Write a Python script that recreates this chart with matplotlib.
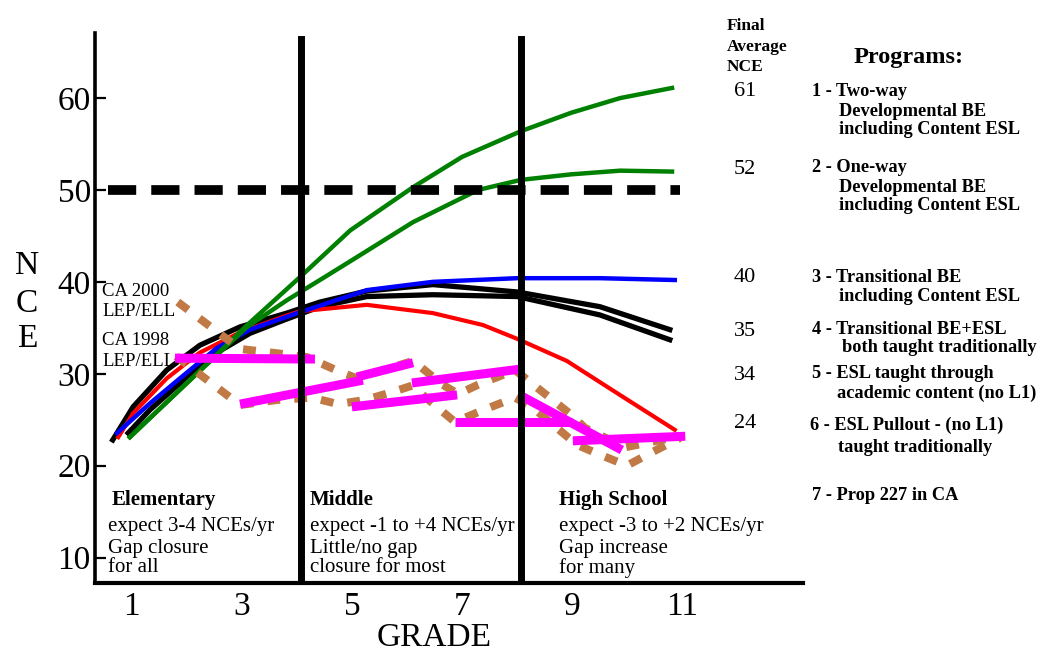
import matplotlib
matplotlib.use("Agg")
import matplotlib.pyplot as plt

plt.rcParams['font.family'] = ['Liberation Serif', 'DejaVu Serif']

W, H = 1045, 653

# ---------------- data ----------------
grade_ticks = [1, 3, 5, 7, 9, 11]
nce_ticks = [10, 20, 30, 40, 50, 60]
national_norm = 50
norm_span = [0.57, 10.95]
school_boundaries = [4.08, 8.07]

# Program 1 (two-way, green upper)
p1_grade = [0.97, 2.06, 3.10, 4.00, 4.97, 6.11, 7.00, 8.07, 8.98, 9.87, 10.81]
p1_nce = [23.1, 29.3, 35.3, 40.2, 45.6, 50.3, 53.6, 56.4, 58.4, 60.0, 61.1]

# Program 2 (one-way, green lower)
p2_grade = [0.97, 2.06, 3.10, 3.82, 4.42, 5.04, 6.11, 7.29, 8.07, 8.98, 9.87, 10.81]
p2_nce = [23.1, 29.3, 35.1, 38.0, 40.2, 42.5, 46.5, 50.0, 51.1, 51.7, 52.1, 52.0]

# Program 3 (blue)
p3_grade = [0.74, 1.34, 1.94, 2.55, 3.15, 4.06, 5.27, 6.47, 8.00, 9.50, 10.86]
p3_nce = [23.55, 26.8, 29.8, 32.8, 34.8, 36.7, 39.1, 40.0, 40.4, 40.4, 40.2]

# Black curves
p4a_grade = [0.66, 1.03, 1.64, 2.24, 2.97, 3.82, 4.42, 5.27, 6.47, 8.00, 9.50, 10.77]
p4a_nce = [22.8, 26.4, 30.4, 33.1, 35.1, 36.6, 37.8, 39.0, 39.7, 38.9, 37.3, 34.8]
p4b_grade = [0.94, 1.34, 1.94, 2.55, 3.15, 3.75, 4.42, 5.27, 6.47, 8.00, 9.50, 10.77]
p4b_nce = [23.55, 26.1, 29.3, 32.3, 34.4, 35.8, 37.3, 38.4, 38.6, 38.4, 36.4, 33.7]

# Red curve
p5_grade = [0.76, 1.03, 1.64, 2.24, 2.97, 3.75, 4.06, 5.27, 6.47, 7.38, 8.00, 8.90, 9.81, 10.86]
p5_nce = [23.1, 25.7, 29.5, 32.3, 34.5, 36.2, 36.8, 37.5, 36.6, 35.3, 33.8, 31.4, 27.9, 23.9]

# Magenta segments (ESL pullout cohorts)
pull_grade = [(1.79, 4.33), (2.97, 5.20), (5.09, 6.11), (5.00, 6.91),
              (6.09, 8.05), (6.87, 9.00), (8.10, 9.90), (9.01, 11.05)]
pull_nce = [(31.7, 31.6), (26.7, 29.3), (29.65, 31.2), (26.4, 27.7),
            (29.0, 30.5), (24.75, 24.75), (27.5, 21.7), (22.7, 23.2)]

# Prop 227 CA (brown dotted)
ca2000_grade = [1.84, 2.97, 3.75, 4.19, 4.75, 5.09, 6.11, 6.65, 6.93, 7.29, 7.96, 8.99, 9.23, 9.96, 10.95]
ca2000_nce = [37.8, 32.7, 32.15, 31.8, 30.3, 29.5, 31.4, 28.8, 27.8, 28.8, 30.4, 25.5, 24.1, 22.0, 23.2]
ca1998_grade = [1.81, 2.97, 3.64, 4.28, 4.75, 5.24, 5.73, 6.09, 6.54, 6.87, 7.38, 7.96,
                8.29, 8.72, 9.09, 9.50, 9.99, 10.46, 10.95]
ca1998_nce = [31.9, 26.6, 27.15, 27.4, 26.7, 27.15, 28.0, 28.7, 26.4, 24.75, 26.05, 27.4,
              26.3, 24.1, 22.25, 21.2, 20.0, 21.5, 23.0]

final_nce_labels = ["61", "52", "40", "35", "34", "24"]
program_lines = [
    "1 - Two-way", "Developmental BE", "including Content ESL",
    "2 - One-way", "Developmental BE", "including Content ESL",
    "3 - Transitional BE", "including Content ESL",
    "4 - Transitional BE+ESL", "both taught traditionally",
    "5 - ESL taught through", "academic content (no L1)",
    "6 - ESL Pullout - (no L1)", "taught traditionally",
    "7 - Prop 227 in CA",
]
school_heads = ["Elementary", "Middle", "High School"]
school_notes = [
    ["expect 3-4 NCEs/yr", "Gap closure", "for all"],
    ["expect -1 to +4 NCEs/yr", "Little/no gap", "closure for most"],
    ["expect -3 to +2 NCEs/yr", "Gap increase", "for many"],
]

# ---------------- layout helpers ----------------
def fx(px):
    return px / W

def fy(py):
    return 1 - py / H

fig = plt.figure(figsize=(W / 100, H / 100), dpi=100)
ax = fig.add_axes([fx(95), fy(583), (803 - 95) / W, (583 - 33) / H])
ax.set_xlim(0.338, 13.187)
ax.set_ylim(7.23, 67.08)

for s in ['top', 'right']:
    ax.spines[s].set_visible(False)
ax.spines['left'].set_linewidth(2.6)
ax.spines['bottom'].set_linewidth(3.0)

ax.set_yticks(nce_ticks)
ax.set_yticklabels([str(t) for t in nce_ticks])
ax.set_xticks(grade_ticks)
ax.set_xticklabels([str(t) for t in grade_ticks])
ax.tick_params(axis='y', direction='in', length=8, width=1.6, pad=3, labelsize=24)
ax.tick_params(axis='x', length=0, pad=6, labelsize=24)

# curves
ax.plot(p4a_grade, p4a_nce, color='black', lw=3.8, solid_joinstyle='round', zorder=2)
ax.plot(p4b_grade, p4b_nce, color='black', lw=3.8, solid_joinstyle='round', zorder=2)
ax.plot(p5_grade, p5_nce, color='#FF0000', lw=3.0, solid_joinstyle='round', zorder=2.2)
ax.plot(p3_grade, p3_nce, color='#0000FF', lw=3.2, solid_joinstyle='round', zorder=2.3)
ax.plot(p1_grade, p1_nce, color='#008000', lw=3.2, solid_joinstyle='round', zorder=2.4)
ax.plot(p2_grade, p2_nce, color='#008000', lw=3.2, solid_joinstyle='round', zorder=2.4)

brown = '#C17A45'
for gx, ny in [(ca2000_grade, ca2000_nce), (ca1998_grade, ca1998_nce)]:
    ln, = ax.plot(gx, ny, color=brown, lw=5.8, solid_capstyle='butt',
                  dash_capstyle='butt', zorder=2.6)
    ln.set_dashes((1.6, 1.75))

for gx, ny in zip(pull_grade, pull_nce):
    ax.plot(gx, ny, color='#FF00FF', lw=6.5, solid_capstyle='butt', zorder=2.8)

# national norm dashed line
nl, = ax.plot(norm_span, [national_norm, national_norm], color='black', lw=7,
              dash_capstyle='butt', zorder=3)
nl.set_dashes((2.9, 1.55))

# school boundaries
for b in school_boundaries:
    ax.axvline(b, ymin=0, ymax=0.99, color='black', lw=5, zorder=4)

# ---------------- texts ----------------
tk = dict(transform=fig.transFigure, zorder=1, clip_on=False)

for txt, py in zip("NCE", [266, 304, 339]):
    ax.text(fx(27), fy(py), txt, ha='center', va='center', fontsize=24, **tk)

ax.text(fx(434), fy(646), "GRADE", ha='center', va='baseline', fontsize=24, **tk)

ax.text(fx(102), fy(292), "CA 2000", ha='left', va='center', fontsize=13.5, **tk)
ax.text(fx(102), fy(311), "LEP/ELL", ha='left', va='center', fontsize=13.5, **tk)
ax.text(fx(102), fy(340), "CA 1998", ha='left', va='center', fontsize=13.5, **tk)
ax.text(fx(102), fy(361), "LEP/ELL", ha='left', va='center', fontsize=13.5, **tk)

head_x = [112, 310, 559]
note_x = [108, 310, 559]
for hx, nx, head, notes in zip(head_x, note_x, school_heads, school_notes):
    ax.text(fx(hx), fy(500), head, ha='left', va='center', fontsize=15,
            fontweight='bold', **tk)
    for note, py in zip(notes, [527, 548, 568]):
        ax.text(fx(nx), fy(py), note, ha='left', va='center', fontsize=15, **tk)

for txt, py in zip(["Final", "Average", "NCE"], [26, 47, 67]):
    ax.text(fx(727), fy(py), txt, ha='left', va='center', fontsize=12.5,
            fontweight='bold', **tk)

for txt, py in zip(final_nce_labels, [91, 169, 278, 331, 376, 424]):
    ax.text(fx(745), fy(py), txt, ha='center', va='center', fontsize=16, **tk)

ax.text(fx(854), fy(58), "Programs:", ha='left', va='center', fontsize=17.5,
        fontweight='bold', **tk)

prog_x = [812, 839, 839, 812, 839, 839, 812, 839, 812, 842, 812, 837, 810, 838, 812]
prog_y = [91, 112, 130, 167, 187, 205, 277, 297, 329, 347, 374, 393, 425, 447, 495]
for txt, px, py in zip(program_lines, prog_x, prog_y):
    ax.text(fx(px), fy(py), txt, ha='left', va='center', fontsize=13.2,
            fontweight='bold', **tk)

fig.savefig("out.png", dpi=100, facecolor='white')
